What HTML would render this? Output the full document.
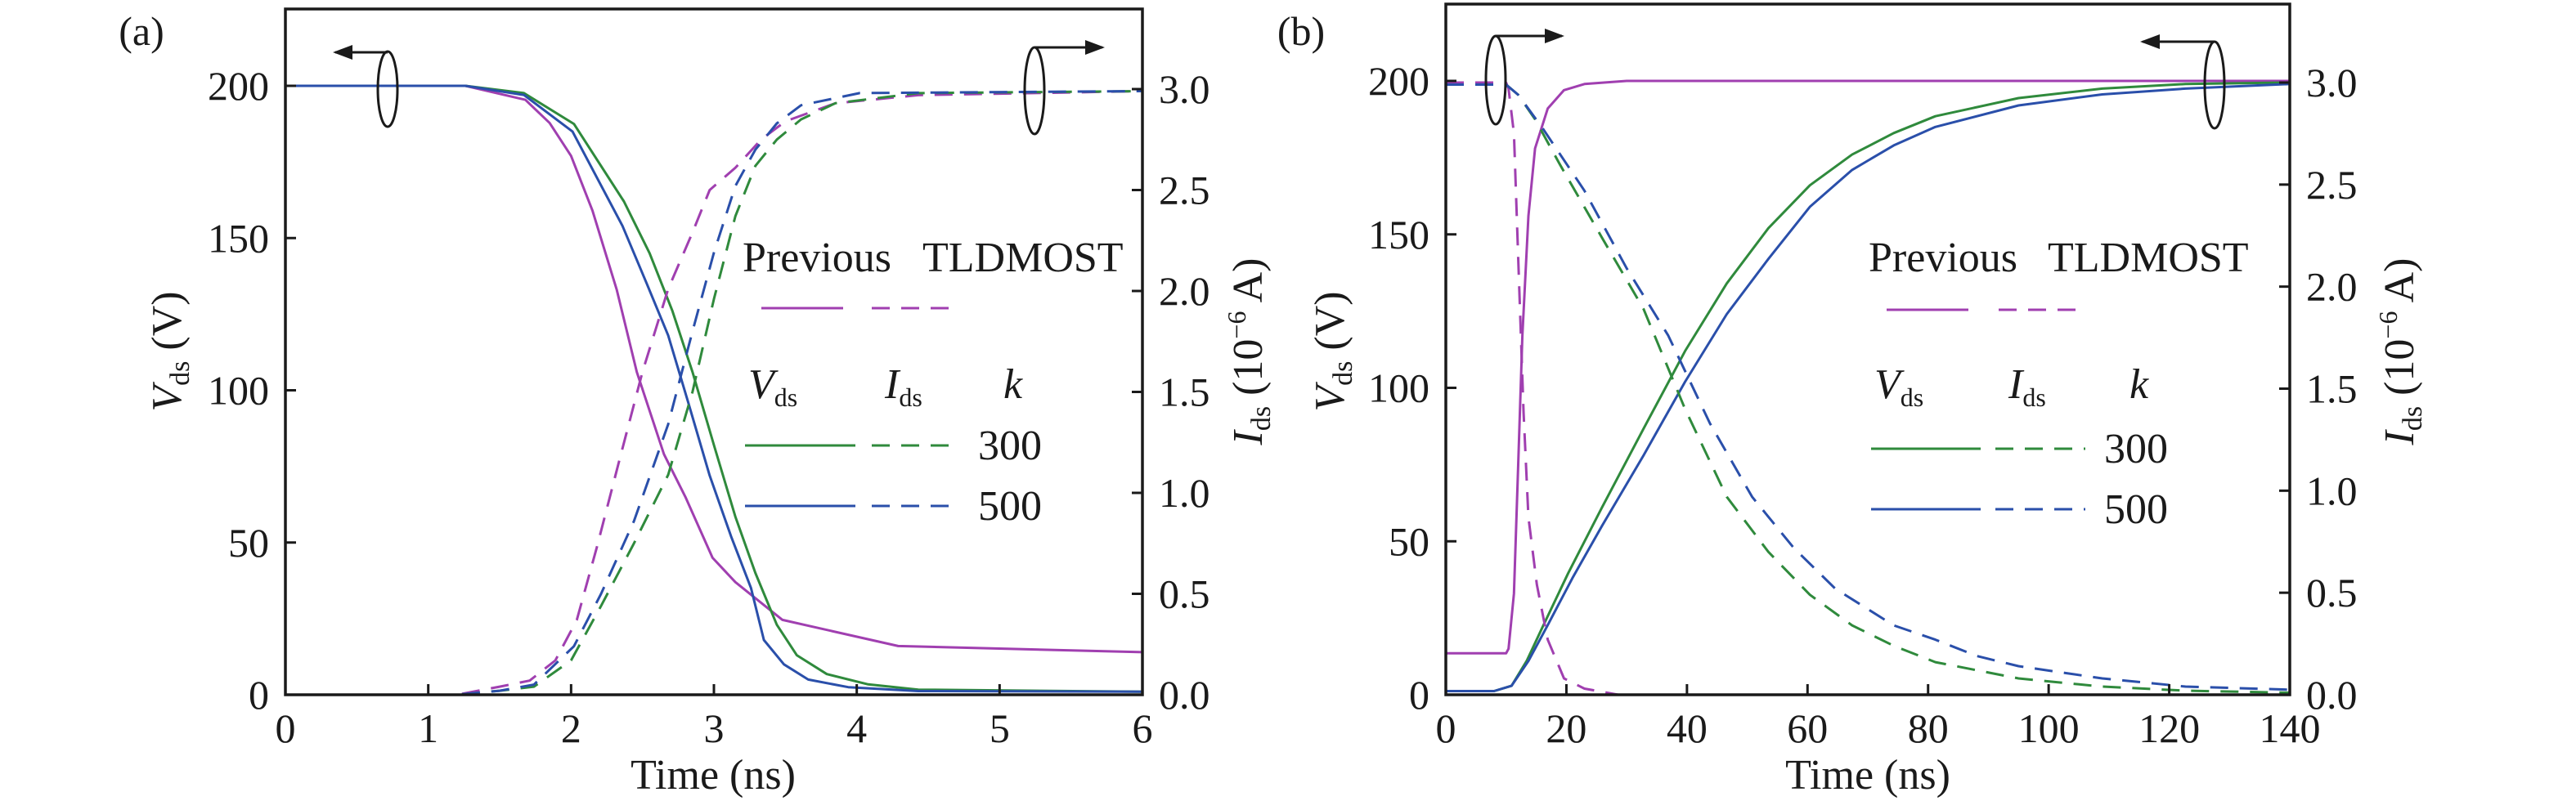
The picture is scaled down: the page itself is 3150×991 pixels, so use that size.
<!DOCTYPE html>
<html><head><meta charset="utf-8"><style>
html,body{margin:0;padding:0;background:#fff;}
svg{display:block;font-family:"Liberation Serif",serif;}
</style></head><body>
<svg id="fig" width="3150" height="991" viewBox="0 0 3150 991" xmlns="http://www.w3.org/2000/svg"></svg>
<script>
// Panel (a) data: time in ns, Vds in V, Ids in 1e-6 A
const aPrevVt=[0,1.26,1.68,1.85,2.0,2.15,2.32,2.46,2.65,2.8,2.99,3.15,3.48,4.29,6];
const aPrevV=[200,200,195.4,187.8,177,159,133,106,79,65,45,37,24.6,16,14];
const a300Vt=[0,1.26,1.67,2.02,2.37,2.55,2.71,2.85,3.0,3.15,3.29,3.44,3.58,3.79,4.08,4.43,6];
const a300V=[200,200,197.6,187.5,162,145,126,106,82,58.5,40,23,13,6.8,3.4,1.7,1];
const a500Vt=[0,1.26,1.67,2.01,2.36,2.53,2.68,2.82,2.97,3.12,3.26,3.35,3.49,3.66,3.94,4.43,6];
const a500V=[200,200,197,185,154,135,118,96,72,52,35,18,10,5,2.5,1.2,1];
const aPrevIt=[0,1.2,1.5,1.71,1.89,2.04,2.18,2.33,2.5,2.68,2.85,2.97,3.15,3.33,3.5,3.85,4.43,6];
const aPrevI=[0,0,0.04,0.07,0.17,0.37,0.73,1.14,1.6,2.01,2.29,2.5,2.61,2.75,2.84,2.93,2.97,2.99];
const a300It=[0,1.2,1.5,1.74,2.0,2.21,2.44,2.68,2.85,3.0,3.15,3.29,3.44,3.61,3.85,4.43,6];
const a300I=[0,0,0.02,0.04,0.17,0.44,0.75,1.09,1.5,1.96,2.37,2.62,2.75,2.85,2.93,2.98,2.99];
const a500It=[0,1.2,1.5,1.74,2.02,2.21,2.44,2.68,2.85,3.0,3.15,3.29,3.44,3.61,4.02,6];
const a500I=[0,0,0.02,0.05,0.24,0.5,0.86,1.34,1.8,2.19,2.52,2.7,2.83,2.92,2.98,2.99];
// Panel (b) data
const bPrevVt=[0,10,10.4,11.3,12,12.7,13.7,14.8,16.9,19.6,23,30,140];
const bPrevV=[13.5,13.5,15,33,75,117,156,178,191,197,199,200,200];
const bPrevIt=[0,10,10.4,11.3,12,12.9,13.7,15.1,16.9,19.6,23,28.6,140];
const bPrevI=[3.0,3.0,2.97,2.75,2.14,1.38,0.87,0.54,0.27,0.08,0.03,0,0];
const b300Vt=[0,8,10.9,13.4,16.2,20.3,25.9,32.8,39.7,46.6,53.5,60.4,67.4,74.3,81.2,95,108.9,122.7,140];
const b300V=[1.2,1.2,2.9,11,22.7,39.6,61,86.7,112,134,152,166,176,183,188.5,194.4,197.5,199,199.5];
const b500Vt=[0,8,10.9,13.7,16.9,21,25.9,32.8,39.7,46.6,53.5,60.4,67.4,74.3,81.2,95,108.9,122.7,140];
const b500V=[1.2,1.2,2.9,11,22.7,38,55,78,102,124,142,159,171,179,185,192,195.6,197.5,199];
const b300It=[0,10,12,14.8,18.9,25.9,32.8,39.7,46.6,53.5,60.4,67.4,74.3,81.2,95,108.9,122.7,140];
const b300I=[2.99,2.99,2.94,2.82,2.6,2.24,1.89,1.4,0.97,0.7,0.49,0.34,0.24,0.16,0.08,0.04,0.02,0.01];
const b500It=[0,10,12,16.2,23,30,36.9,43.8,50.8,57.7,64.6,74.3,81.2,88.1,95,108.9,122.7,140];
const b500I=[2.99,2.99,2.94,2.77,2.47,2.09,1.76,1.33,0.97,0.72,0.52,0.34,0.27,0.19,0.14,0.08,0.04,0.025];
const aXTicks=[0,1,2,3,4,5,6];
const bXTicks=[0,20,40,60,80,100,120,140];
const vTicks=[0,50,100,150,200];
const iTicks=[0,0.5,1,1.5,2,2.5,3];
const iTickLabels=["0.0","0.5","1.0","1.5","2.0","2.5","3.0"];

const NS="http://www.w3.org/2000/svg";
const svg=document.getElementById('fig');
const PUR="#a03fb0",GRN="#2f8a3c",BLU="#2a4faa";
function mk(tag,attrs,parent){const e=document.createElementNS(NS,tag);for(const k in attrs)e.setAttribute(k,attrs[k]);(parent||svg).appendChild(e);return e;}

function panel(P){
  const g=mk('g',{});
  
  
  const X=v=>P.x0+(v-P.xmin)/(P.xmax-P.xmin)*(P.x1-P.x0);
  const YV=v=>P.yb+(P.y200-P.yb)*v/200;
  const YI=v=>P.yb+(P.y3-P.yb)*v/3;
  function series(xs,ys,Y,col,dash,name){
    const d=xs.map((t,i)=>(i?'L':'M')+X(t).toFixed(1)+' '+Y(ys[i]).toFixed(1)).join(' ');
    const p=mk('path',{d:d,fill:'none',stroke:col,'stroke-width':3,'stroke-dasharray':dash?'22 14':'none','stroke-linejoin':'round'},g);
    
    
  }
  P.series.forEach(s=>series(s[0],s[1],s[2]==='V'?YV:YI,s[3],s[4],s[5]));
  const fr=mk('rect',{x:P.x0,y:P.top,width:P.x1-P.x0,height:P.yb-P.top,fill:'none',stroke:'#1a1a1a','stroke-width':3.5},g);
  
  
  P.xticks.forEach(t=>{
    mk('line',{x1:X(t),x2:X(t),y1:P.yb,y2:P.yb-13,stroke:'#1a1a1a','stroke-width':3},g);
    const tx=mk('text',{x:X(t),y:908,'font-size':50,'text-anchor':'middle',fill:'#1a1a1a'},g);
    tx.textContent=t;
    
    
  });
  vTicks.forEach(v=>{
    mk('line',{x1:P.x0,x2:P.x0+13,y1:YV(v),y2:YV(v),stroke:'#1a1a1a','stroke-width':3},g);
    const tx=mk('text',{x:P.x0-20,y:YV(v)+17,'font-size':50,'text-anchor':'end',fill:'#1a1a1a'},g);
    tx.textContent=v;
    
    
  });
  iTicks.forEach((v,i)=>{
    mk('line',{x1:P.x1,x2:P.x1-13,y1:YI(v),y2:YI(v),stroke:'#1a1a1a','stroke-width':3},g);
    const tx=mk('text',{x:P.x1+20,y:YI(v)+17,'font-size':50,'text-anchor':'start',fill:'#1a1a1a'},g);
    tx.textContent=iTickLabels[i];
    
    
  });
}

panel({name:'panel-a',x0:349,x1:1397,xmin:0,xmax:6,top:11,yb:850,y200:105,y3:109,xticks:aXTicks,series:[
 [aPrevVt,aPrevV,'V',PUR,false,'previous-vds-line'],[a300Vt,a300V,'V',GRN,false,'k300-vds-line'],[a500Vt,a500V,'V',BLU,false,'k500-vds-line'],
 [aPrevIt,aPrevI,'I',PUR,true,'previous-ids-line'],[a300It,a300I,'I',GRN,true,'k300-ids-line'],[a500It,a500I,'I',BLU,true,'k500-ids-line']]});
panel({name:'panel-b',x0:1768,x1:2800,xmin:0,xmax:140,top:5,yb:850,y200:99,y3:101,xticks:bXTicks,series:[
 [bPrevVt,bPrevV,'V',PUR,false,'previous-vds-line'],[b300Vt,b300V,'V',GRN,false,'k300-vds-line'],[b500Vt,b500V,'V',BLU,false,'k500-vds-line'],
 [bPrevIt,bPrevI,'I',PUR,true,'previous-ids-line'],[b300It,b300I,'I',GRN,true,'k300-ids-line'],[b500It,b500I,'I',BLU,true,'k500-ids-line']]});
</script>
<script>
(function(){
const NS="http://www.w3.org/2000/svg";
const svg=document.getElementById('fig');
const g=document.createElementNS(NS,'g');svg.appendChild(g);
g.innerHTML=`
<defs><marker id="ah" markerWidth="8" markerHeight="6" refX="7" refY="3" orient="auto" markerUnits="strokeWidth"><path d="M0,0 L8,3 L0,6 z" fill="#1a1a1a"/></marker></defs>
<text x="173" y="55" font-size="50" text-anchor="middle" fill="#1a1a1a">(a)</text>
<text x="1591" y="55" font-size="50" text-anchor="middle" fill="#1a1a1a">(b)</text>
<text x="872" y="965" font-size="52" text-anchor="middle" fill="#1a1a1a">Time (ns)</text>
<text x="2284" y="965" font-size="52" text-anchor="middle" fill="#1a1a1a">Time (ns)</text>
<text transform="translate(221,430) rotate(-90)" font-size="52" text-anchor="middle" fill="#1a1a1a"><tspan font-style="italic">V</tspan><tspan font-size="34" dy="10">ds</tspan><tspan dy="-10"> (V)</tspan></text>
<text transform="translate(1643,430) rotate(-90)" font-size="52" text-anchor="middle" fill="#1a1a1a"><tspan font-style="italic">V</tspan><tspan font-size="34" dy="10">ds</tspan><tspan dy="-10"> (V)</tspan></text>
<text transform="translate(1543,430) rotate(-90)" font-size="52" text-anchor="middle" fill="#1a1a1a"><tspan font-style="italic">I</tspan><tspan font-size="34" dy="10">ds</tspan><tspan dy="-10"> (10</tspan><tspan font-size="32" dy="-20">−6</tspan><tspan dy="20"> A)</tspan></text>
<text transform="translate(2951,430) rotate(-90)" font-size="52" text-anchor="middle" fill="#1a1a1a"><tspan font-style="italic">I</tspan><tspan font-size="34" dy="10">ds</tspan><tspan dy="-10"> (10</tspan><tspan font-size="32" dy="-20">−6</tspan><tspan dy="20"> A)</tspan></text>

<g fill="#1a1a1a" font-size="52">
<text x="908" y="332">Previous</text>
<text x="1128" y="332">TLDMOST</text>
<line x1="931" x2="1031" y1="377" y2="377" stroke="#a03fb0" stroke-width="3"/>
<line x1="1066" x2="1173" y1="377" y2="377" stroke="#a03fb0" stroke-width="3" stroke-dasharray="22 14"/>
<text x="915" y="487"><tspan font-style="italic">V</tspan><tspan font-size="32" dy="10">ds</tspan></text>
<text x="1082" y="487"><tspan font-style="italic">I</tspan><tspan font-size="32" dy="10">ds</tspan></text>
<text x="1227" y="487" font-style="italic">k</text>
<line x1="911" x2="1046" y1="545" y2="545" stroke="#2f8a3c" stroke-width="3"/>
<line x1="1066" x2="1173" y1="545" y2="545" stroke="#2f8a3c" stroke-width="3" stroke-dasharray="22 14"/>
<text x="1196" y="562">300</text>
<line x1="911" x2="1046" y1="619" y2="619" stroke="#2a4faa" stroke-width="3"/>
<line x1="1066" x2="1173" y1="619" y2="619" stroke="#2a4faa" stroke-width="3" stroke-dasharray="22 14"/>
<text x="1196" y="636">500</text>
</g>
<g fill="#1a1a1a" font-size="52">
<text x="2285" y="332">Previous</text>
<text x="2504" y="332">TLDMOST</text>
<line x1="2307" x2="2407" y1="379" y2="379" stroke="#a03fb0" stroke-width="3"/>
<line x1="2444" x2="2548" y1="379" y2="379" stroke="#a03fb0" stroke-width="3" stroke-dasharray="22 14"/>
<text x="2292" y="487"><tspan font-style="italic">V</tspan><tspan font-size="32" dy="10">ds</tspan></text>
<text x="2456" y="487"><tspan font-style="italic">I</tspan><tspan font-size="32" dy="10">ds</tspan></text>
<text x="2604" y="487" font-style="italic">k</text>
<line x1="2288" x2="2422" y1="549" y2="549" stroke="#2f8a3c" stroke-width="3"/>
<line x1="2440" x2="2550" y1="549" y2="549" stroke="#2f8a3c" stroke-width="3" stroke-dasharray="22 14"/>
<text x="2573" y="566">300</text>
<line x1="2288" x2="2422" y1="623" y2="623" stroke="#2a4faa" stroke-width="3"/>
<line x1="2440" x2="2550" y1="623" y2="623" stroke="#2a4faa" stroke-width="3" stroke-dasharray="22 14"/>
<text x="2573" y="640">500</text>
</g>
<g stroke="#1a1a1a" stroke-width="3" fill="none">
<ellipse cx="474" cy="109" rx="12" ry="46"/>
<line x1="474" y1="64" x2="410" y2="64" marker-end="url(#ah)"/>
<ellipse cx="1265" cy="111" rx="12" ry="53"/>
<line x1="1265" y1="58" x2="1348" y2="58" marker-end="url(#ah)"/>
<ellipse cx="1829" cy="98" rx="12" ry="54"/>
<line x1="1829" y1="44" x2="1910" y2="44" marker-end="url(#ah)"/>
<ellipse cx="2708" cy="104" rx="12" ry="53"/>
<line x1="2708" y1="51" x2="2620" y2="51" marker-end="url(#ah)"/>
</g>`;
})();
</script>
</body></html>
